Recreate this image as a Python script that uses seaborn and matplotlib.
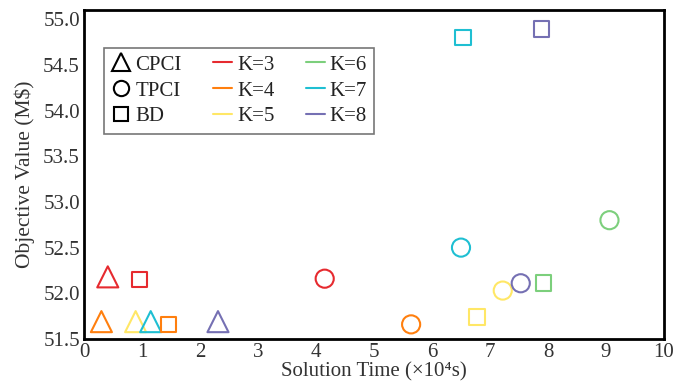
import matplotlib
matplotlib.use("Agg")
import matplotlib.pyplot as plt
from matplotlib.lines import Line2D
import seaborn as sns
import pandas as pd

# ---- data ----
cpci_k = [3, 4, 5, 7, 8]
cpci_time = [0.41, 0.30, 0.89, 1.15, 2.31]
cpci_value = [52.18, 51.69, 51.69, 51.69, 51.69]

tpci_k = [3, 4, 5, 6, 7, 8]
tpci_time = [4.15, 5.64, 7.22, 9.06, 6.50, 7.53]
tpci_value = [52.16, 51.66, 52.03, 52.80, 52.50, 52.11]

bd_k = [3, 4, 5, 6, 7, 8]
bd_time = [0.96, 1.46, 6.78, 7.92, 6.53, 7.89]
bd_value = [52.15, 51.66, 51.74, 52.11, 54.80, 54.89]

methods = ["CPCI", "TPCI", "BD"]
k_values = [3, 4, 5, 6, 7, 8]
k_colors = ["#e62a2f", "#ff7f0e", "#ffe766", "#7ccf7c", "#1fbfd2", "#7570b3"]

x_ticks = list(range(0, 11))
y_ticks = [51.5, 52.0, 52.5, 53.0, 53.5, 54.0, 54.5, 55.0]

df = pd.concat([
    pd.DataFrame({"method": "CPCI", "K": cpci_k, "time": cpci_time, "value": cpci_value}),
    pd.DataFrame({"method": "TPCI", "K": tpci_k, "time": tpci_time, "value": tpci_value}),
    pd.DataFrame({"method": "BD", "K": bd_k, "time": bd_time, "value": bd_value}),
], ignore_index=True)
df["Kl"] = "K=" + df["K"].astype(str)

sns.set_theme(style="white")
plt.rcParams["font.family"] = ["Liberation Serif", "DejaVu Serif"]

fig = plt.figure(figsize=(6.94, 3.88), dpi=100)
ax = fig.add_axes([84 / 694, 1 - 339 / 388, (664 - 84) / 694, (339 - 10) / 388])

palette = {f"K={k}": c for k, c in zip(k_values, k_colors)}
marker_map = {"CPCI": "^", "TPCI": "o", "BD": "s"}
size_map = {"CPCI": 230, "TPCI": 170, "BD": 125}
leg_size = {"CPCI": 12.5, "TPCI": 11, "BD": 9.5}

for m in methods:
    sub = df[df["method"] == m]
    sns.scatterplot(data=sub, x="time", y="value", hue="Kl", palette=palette,
                    marker=marker_map[m], s=size_map[m], linewidth=1.5,
                    legend=False, ax=ax, zorder=3)

for coll in ax.collections:
    fc = coll.get_facecolors()
    coll.set_edgecolors(fc)
    coll.set_facecolors("none")

ax.set_xlim(0, 10)
ax.set_ylim(51.5, 55.1)
ax.set_xticks(x_ticks)
ax.set_yticks(y_ticks)
ax.set_xticklabels([str(t) for t in x_ticks])
ax.set_yticklabels([f"{t:.1f}" for t in y_ticks])
ax.tick_params(direction="in", length=4, width=1.5, labelsize=15, color="black",
               labelcolor="#333333")
ax.tick_params(axis="x", pad=3)
ax.tick_params(axis="y", pad=3)
for sp in ax.spines.values():
    sp.set_visible(True)
    sp.set_color("black")
    sp.set_linewidth(2)

ax.set_xlabel("Solution Time (×10\u2074s)", fontsize=15, labelpad=0, color="#333333")
ax.set_ylabel("Objective Value (M$)", fontsize=15.5, labelpad=6, color="#333333")

handles = []
labels = []
for m in methods:
    handles.append(Line2D([], [], linestyle="none", marker=marker_map[m], markersize=leg_size[m],
                          markerfacecolor="none", markeredgecolor="black", markeredgewidth=1.5))
    labels.append(m)
for k, c in zip(k_values, k_colors):
    handles.append(Line2D([], [], color=c, linewidth=1.5))
    labels.append(f"K={k}")

leg = ax.legend(handles, labels, ncol=3, loc="upper left", bbox_to_anchor=(0.035, 0.885),
                fontsize=15, frameon=True, fancybox=False, handlelength=0.9,
                handletextpad=0.25, columnspacing=1.5, labelspacing=0.3,
                borderpad=0.35, borderaxespad=0)
leg.get_frame().set_edgecolor("#555555")
leg.get_frame().set_linewidth(1.2)
for t in leg.get_texts():
    t.set_color("#222222")

fig.savefig("out.png", dpi=100)
